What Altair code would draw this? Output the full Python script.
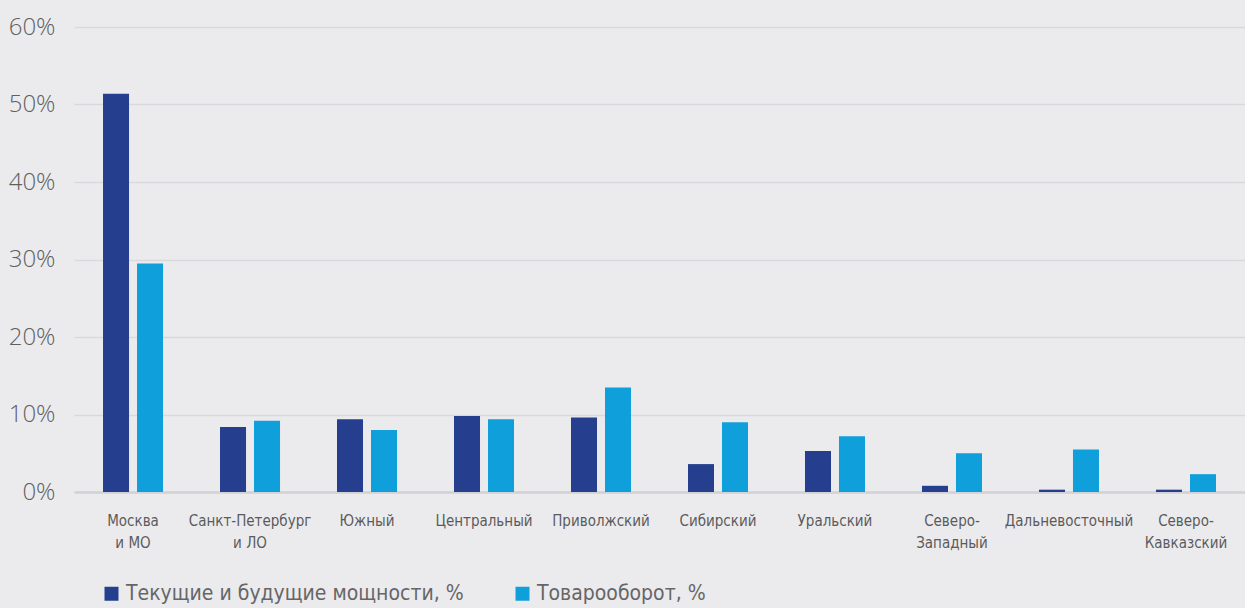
import altair as alt
import pandas as pd

# Regional shares, percent
regions = [
    "Москва\nи МО",
    "Санкт-Петербург\nи ЛО",
    "Южный",
    "Центральный",
    "Приволжский",
    "Сибирский",
    "Уральский",
    "Северо-\nЗападный",
    "Дальневосточный",
    "Северо-\nКавказский",
]
capacity = [51.4, 8.4, 9.4, 9.8, 9.6, 3.6, 5.3, 0.8, 0.3, 0.3]
turnover = [29.5, 9.2, 8.0, 9.4, 13.5, 9.0, 7.2, 5.0, 5.5, 2.3]

series = ["Текущие и будущие мощности, %", "Товарооборот, %"]
colors = ["#253e8e", "#0f9fda"]
y_ticks = [0, 10, 20, 30, 40, 50, 60]

rows = []
for r, c, t in zip(regions, capacity, turnover):
    rows.append({"region": r, "series": series[0], "value": c})
    rows.append({"region": r, "series": series[1], "value": t})
df = pd.DataFrame(rows)

label_font = "Liberation Sans Narrow, DejaVu Sans Condensed, Roboto"
tick_font = "Open Sans, Lato, Roboto"

chart = (
    alt.Chart(df)
    .mark_bar()
    .encode(
        x=alt.X(
            "region:N",
            sort=regions,
            scale=alt.Scale(paddingInner=0.487, paddingOuter=0.248),
            axis=alt.Axis(
                title=None,
                labelAngle=0,
                labelExpr="split(datum.label, '\\n')",
                labelFont=label_font,
                labelFontSize=15,
                labelColor="#5b5b5b",
                labelLineHeight=22,
                labelPadding=28,
                labelBaseline="middle",
                ticks=False,
                domainColor="#d2d2d6",
                domainWidth=2.5,
            ),
        ),
        xOffset=alt.XOffset(
            "series:N",
            sort=series,
            scale=alt.Scale(paddingInner=0.235, paddingOuter=0),
        ),
        y=alt.Y(
            "value:Q",
            scale=alt.Scale(domain=[0, 60]),
            axis=alt.Axis(
                title=None,
                values=y_ticks,
                labelExpr="datum.value + '%'",
                labelFont=tick_font,
                labelFontWeight=300,
                labelFontSize=24,
                labelColor="#5f5f5f",
                labelPadding=19,
                domain=False,
                ticks=False,
                gridColor="#d9d9dd",
                gridWidth=1.5,
            ),
        ),
        color=alt.Color(
            "series:N",
            sort=series,
            scale=alt.Scale(domain=series, range=colors),
            legend=alt.Legend(
                title=None,
                orient="none",
                legendX=27,
                legendY=556,
                direction="horizontal",
                symbolType="square",
                symbolSize=196,
                symbolStrokeWidth=0,
                symbolOpacity=1,
                labelFont=label_font,
                labelFontSize=21,
                labelColor="#666666",
                labelOffset=4,
                columnPadding=48,
                labelLimit=600,
            ),
        ),
    )
    .properties(
        width=1171,
        height=465,
        background="#ebebee",
        autosize=alt.AutoSizeParams(type="none"),
        padding={"left": 74, "top": 27, "right": 0, "bottom": 116},
    )
    .configure_view(stroke=None)
)

chart.save("out.html", embed_options={"renderer": "svg", "actions": False})
